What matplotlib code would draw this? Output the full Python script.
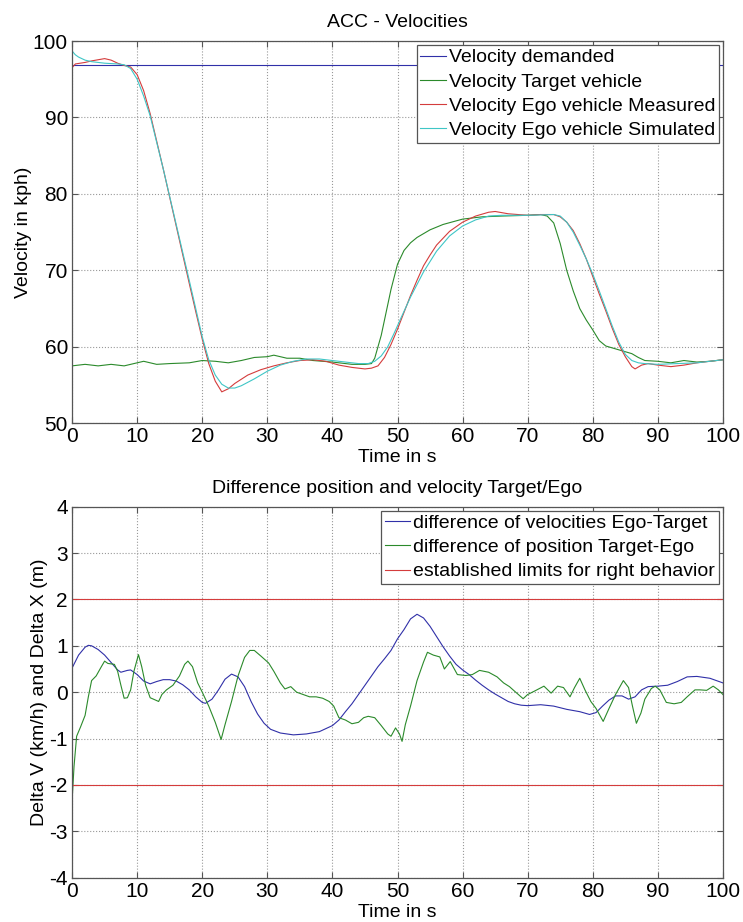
import matplotlib
matplotlib.use("Agg")
from matplotlib import pyplot as plt

plt.rcParams['font.family'] = ['Liberation Sans', 'DejaVu Sans']
plt.rcParams['axes.unicode_minus'] = False

# --- upper plot: velocities ---
t_dem = [0, 100]
v_dem = [96.9, 96.9]

t_tgt = [0, 2, 4, 6, 8, 10, 11, 13, 15, 18, 20, 22, 24, 26, 28, 30, 31, 33, 35, 37,
         40, 43, 45, 46, 46.5, 47, 47.5, 48, 49, 50, 51, 52, 53, 55, 57, 60, 63, 66,
         70, 72, 73, 74, 75, 76, 77, 78, 79, 80, 81, 82, 84, 86, 87, 88, 90, 92, 94,
         96, 98, 100]
v_tgt = [57.5, 57.7, 57.5, 57.7, 57.5, 57.9, 58.1, 57.7, 57.8, 57.9, 58.2, 58.1, 57.9,
         58.2, 58.6, 58.7, 58.9, 58.5, 58.5, 58.2, 58.0, 57.7, 57.7, 57.8, 58.5, 60.0,
         61.5, 63.5, 67.5, 70.8, 72.6, 73.6, 74.3, 75.3, 76.0, 76.7, 77.0, 77.1, 77.2,
         77.3, 77.1, 76.2, 73.5, 70.0, 67.3, 65.0, 63.5, 62.2, 60.8, 60.1, 59.6, 59.1,
         58.6, 58.2, 58.1, 57.9, 58.2, 58.0, 58.1, 58.3]

t_meas = [0, 0.5, 2, 3, 5, 6, 7, 8, 9, 10, 11, 12, 14, 16, 18, 19, 20, 21, 22, 23, 24,
          25, 27, 29, 31, 33, 35, 37, 39, 41, 43, 45, 46, 47, 48, 49, 50, 51, 52, 53,
          54, 55, 56, 58, 60, 62, 64, 65, 67, 70, 72, 74, 75, 76, 77, 78, 79, 80, 81,
          82, 83, 84, 85, 86, 86.5, 87.5, 88.5, 90, 92, 94, 96, 98, 100]
v_meas = [96.5, 97.0, 97.2, 97.4, 97.7, 97.5, 97.1, 96.8, 96.6, 95.6, 93.5, 90.5, 83.3,
          75.8, 68.3, 64.6, 61.0, 57.8, 55.5, 54.1, 54.5, 55.2, 56.3, 57.0, 57.5, 57.9,
          58.2, 58.3, 58.1, 57.6, 57.3, 57.1, 57.2, 57.5, 58.6, 60.3, 62.3, 64.5, 66.7,
          68.7, 70.6, 72.0, 73.3, 75.1, 76.3, 77.1, 77.6, 77.7, 77.4, 77.2, 77.3, 77.3,
          77.0, 76.3, 75.2, 73.5, 71.5, 69.2, 66.9, 64.7, 62.4, 60.3, 58.7, 57.4, 57.1,
          57.6, 57.8, 57.6, 57.4, 57.6, 57.9, 58.1, 58.3]

t_sim = [0, 0.5, 1, 2, 3, 5, 7, 8, 9, 10, 11, 12, 14, 16, 18, 19, 20, 21, 22, 23, 24,
         25, 26, 28, 30, 32, 34, 36, 38, 40, 42, 44, 45.5, 46.5, 47.5, 48.5, 49.5, 50.5,
         52, 54, 56, 58, 60, 62, 64, 66, 70, 74, 75, 76, 77, 78, 79, 80, 81, 82, 83,
         84, 85, 86, 87, 88, 90, 93, 96, 100]
v_sim = [98.7, 98.2, 97.9, 97.5, 97.3, 97.1, 97.0, 96.9, 96.4, 95.0, 92.8, 90.2, 83.3,
         76.0, 68.7, 65.0, 61.3, 58.3, 56.3, 55.1, 54.6, 54.6, 54.9, 55.8, 56.8, 57.6,
         58.1, 58.4, 58.4, 58.2, 58.0, 57.8, 57.8, 58.1, 58.8, 60.0, 61.8, 63.7, 66.5,
         69.8, 72.5, 74.5, 75.8, 76.6, 77.1, 77.2, 77.2, 77.3, 77.1, 76.3, 75.0, 73.3,
         71.5, 69.5, 67.3, 65.0, 62.7, 60.6, 59.0, 58.2, 57.9, 57.8, 57.7, 57.8, 57.9,
         58.3]

# --- lower plot: differences ---
t_dv = [0, 1, 2, 2.5, 3, 4, 5, 6, 7, 7.5, 8.5, 9, 10, 11, 12, 13, 14, 15, 16, 17, 18,
        19, 20, 20.5, 21.5, 22.5, 23.5, 24.5, 25.5, 26.5, 27.5, 28.5, 29.5, 30.5, 32,
        34, 36, 38, 40, 41, 42, 43, 44, 45, 46, 47, 48, 49, 50, 51, 52, 53, 54, 55, 56,
        57, 58, 59, 60, 61, 62, 63, 64, 65, 66, 67, 68, 69, 70, 72, 74, 76, 78, 79.5,
        80.5, 81.5, 82.5, 83.5, 84.5, 85.5, 86.5, 87.5, 88.5, 90, 91.5, 93, 94.5, 96,
        98, 100]
dv = [0.52, 0.8, 0.97, 1.01, 1.0, 0.92, 0.8, 0.64, 0.48, 0.43, 0.47, 0.48, 0.38, 0.24,
      0.18, 0.23, 0.27, 0.27, 0.24, 0.16, 0.05, -0.1, -0.22, -0.24, -0.15, 0.05, 0.28,
      0.39, 0.33, 0.12, -0.2, -0.47, -0.67, -0.8, -0.88, -0.92, -0.9, -0.85, -0.72,
      -0.6, -0.42, -0.25, -0.05, 0.15, 0.35, 0.55, 0.72, 0.9, 1.15, 1.35, 1.58, 1.68,
      1.6, 1.42, 1.2, 0.98, 0.78, 0.6, 0.48, 0.38, 0.26, 0.15, 0.05, -0.04, -0.12,
      -0.2, -0.25, -0.28, -0.29, -0.27, -0.3, -0.37, -0.42, -0.48, -0.44, -0.3, -0.17,
      -0.08, -0.08, -0.15, -0.1, 0.05, 0.12, 0.13, 0.15, 0.23, 0.33, 0.34, 0.3, 0.2]

t_dx = [0, 0.3, 0.7, 1.3, 2, 2.5, 3, 3.7, 4.5, 5, 5.5, 6.5, 7, 7.5, 8, 8.5, 9, 9.5,
        10.2, 10.7, 11.3, 12, 12.5, 13.3, 13.8, 14.5, 15.5, 16.5, 17.3, 17.8, 18.5,
        19.3, 20, 21, 22, 22.9, 23.5, 24.5, 25.5, 26.5, 27.3, 28, 29, 30.2, 31, 32,
        32.7, 33.6, 34.5, 35.5, 36.5, 37.5, 38.5, 39.5, 40.2, 41, 42, 43, 44, 44.8,
        45.5, 46.5, 47.5, 48.5, 49, 49.7, 50.3, 50.7, 51.2, 52, 53, 54, 54.6, 55.5,
        56.5, 57.2, 58.1, 59.2, 60.5, 61.5, 62.6, 64, 65.3, 66.3, 67.2, 68, 69.3, 70,
        71, 72.5, 73.6, 74.6, 75.5, 76.5, 77.2, 78, 78.8, 79.7, 80.5, 81.6, 82.5, 83.5,
        84.7, 85.5, 86.1, 86.7, 87.4, 88, 89, 89.6, 90.3, 91.3, 92.5, 93.6, 94.5, 95.7,
        96.5, 97.5, 98.5, 99.3, 100]
dx = [-2.35, -1.6, -0.95, -0.75, -0.5, -0.1, 0.25, 0.35, 0.55, 0.67, 0.62, 0.6, 0.45,
      0.15, -0.13, -0.12, 0.05, 0.45, 0.81, 0.55, 0.15, -0.12, -0.15, -0.2, -0.05,
      0.05, 0.15, 0.35, 0.6, 0.67, 0.55, 0.2, 0.0, -0.3, -0.65, -1.02, -0.7, -0.2,
      0.35, 0.75, 0.9, 0.9, 0.78, 0.63, 0.45, 0.2, 0.07, 0.12, 0.0, -0.05, -0.1, -0.1,
      -0.13, -0.2, -0.3, -0.55, -0.6, -0.68, -0.65, -0.55, -0.52, -0.55, -0.72, -0.9,
      -0.95, -0.77, -0.9, -1.06, -0.7, -0.3, 0.25, 0.65, 0.86, 0.8, 0.76, 0.5, 0.66,
      0.38, 0.36, 0.38, 0.47, 0.43, 0.33, 0.2, 0.12, 0.02, -0.14, -0.05, 0.02, 0.13,
      -0.02, 0.13, 0.1, -0.1, 0.1, 0.3, 0.05, -0.2, -0.35, -0.63, -0.35, -0.05, 0.25,
      0.1, -0.3, -0.67, -0.45, -0.15, 0.08, 0.13, 0.05, -0.22, -0.25, -0.22, -0.1,
      0.05, 0.05, 0.04, 0.13, 0.05, -0.05]

t_lim = [0, 100]
lim_hi = [2, 2]
lim_lo = [-2, -2]

blue = '#3030a8'
green = '#2b8a2b'
red = '#d43c3c'
cyan = '#3fc6c6'
lw = 0.8


def style_axes(ax, ylabel, ypad):
    ax.set_xlim(0, 100)
    ax.set_xticks(range(0, 101, 10))
    ax.tick_params(direction='in', top=True, right=True, labelsize=15,
                   length=4, color='#555555', pad=3)
    ax.grid(True, linestyle=':', color='#999999', linewidth=0.8)
    for s in ax.spines.values():
        s.set_color('#555555')
        s.set_linewidth(0.9)
    ax.set_xlabel('Time in s', fontsize=14, labelpad=2)
    ax.set_ylabel(ylabel, fontsize=14, labelpad=ypad)


def add_legend(ax):
    leg = ax.legend(loc='upper right', fontsize=14, handlelength=1.3,
                    handletextpad=0.15, borderpad=0.2, labelspacing=0.34,
                    borderaxespad=0.2, fancybox=False, framealpha=1,
                    edgecolor='#555555')
    leg.get_frame().set_linewidth(0.9)


fig = plt.figure(figsize=(7.43, 9.22), dpi=100)

ax1 = fig.add_axes([0.097, 0.541, 0.876, 0.4145])
ax1.plot(t_dem, v_dem, color=blue, lw=lw, label='Velocity demanded')
ax1.plot(t_tgt, v_tgt, color=green, lw=lw, label='Velocity Target vehicle')
ax1.plot(t_meas, v_meas, color=red, lw=lw, label='Velocity Ego vehicle Measured')
ax1.plot(t_sim, v_sim, color=cyan, lw=lw, label='Velocity Ego vehicle Simulated')
style_axes(ax1, 'Velocity in kph)', 0.5)
ax1.set_ylim(50, 100)
ax1.set_yticks(range(50, 101, 10))
ax1.set_title('ACC - Velocities', fontsize=14, pad=10)
add_legend(ax1)

ax2 = fig.add_axes([0.097, 0.048, 0.876, 0.4025])
ax2.plot(t_dv, dv, color=blue, lw=lw, label='difference of velocities Ego-Target')
ax2.plot(t_dx, dx, color=green, lw=lw, label='difference of position Target-Ego')
ax2.plot(t_lim, lim_hi, color=red, lw=lw, label='established limits for right behavior')
ax2.plot(t_lim, lim_lo, color=red, lw=lw)
style_axes(ax2, 'Delta V (km/h) and Delta X (m)', 1.0)
ax2.set_ylim(-4, 4)
ax2.set_yticks(range(-4, 5))
ax2.set_title('Difference position and velocity Target/Ego', fontsize=14, pad=10)
add_legend(ax2)

plt.savefig('out.png', dpi=100)
plt.close()
